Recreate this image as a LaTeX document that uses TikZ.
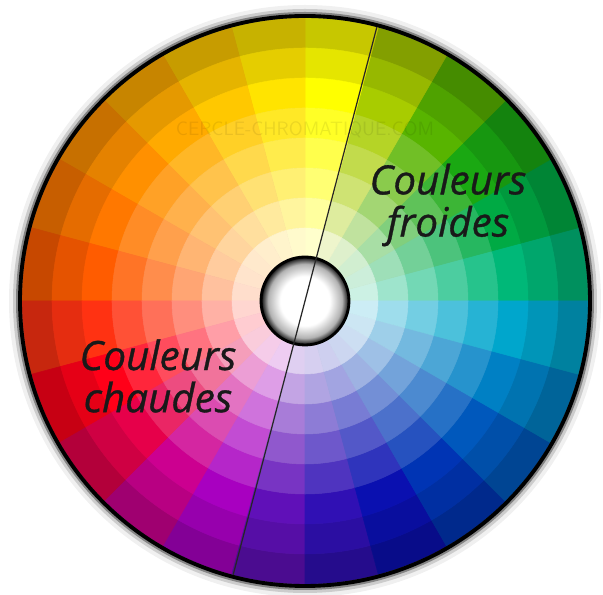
\documentclass[tikz,border=0pt]{standalone}
\usepackage{fontspec}
\usepackage{xcolor}
\usepackage{tikz}
\usetikzlibrary{calc}
\newfontfamily\handfont[FakeBold=0.8]{Open Sans}
% hues of the 24 sectors, counterclockwise from east
\definecolor{sec0}{HTML}{00B878}
\definecolor{sec1}{HTML}{00AA44}
\definecolor{sec2}{HTML}{1AA812}
\definecolor{sec3}{HTML}{58B400}
\definecolor{sec4}{HTML}{A8CC00}
\definecolor{sec5}{HTML}{FFFF00}
\definecolor{sec6}{HTML}{FFE400}
\definecolor{sec7}{HTML}{FFC800}
\definecolor{sec8}{HTML}{FFAA00}
\definecolor{sec9}{HTML}{FF9000}
\definecolor{sec10}{HTML}{FF7800}
\definecolor{sec11}{HTML}{FF5C00}
\definecolor{sec12}{HTML}{FF3212}
\definecolor{sec13}{HTML}{FF0018}
\definecolor{sec14}{HTML}{E6004A}
\definecolor{sec15}{HTML}{CC0090}
\definecolor{sec16}{HTML}{A800C0}
\definecolor{sec17}{HTML}{6010B8}
\definecolor{sec18}{HTML}{3010B4}
\definecolor{sec19}{HTML}{0A10B0}
\definecolor{sec20}{HTML}{0034B4}
\definecolor{sec21}{HTML}{0058BC}
\definecolor{sec22}{HTML}{0080C4}
\definecolor{sec23}{HTML}{00A6CC}
\pgfdeclareradialshading{holeshade}{\pgfpoint{0bp}{0bp}}{color(0bp)=(white); color(14bp)=(white); color(21bp)=(black!30); color(24bp)=(black!80); color(25bp)=(black); color(50bp)=(black)}
\tikzset{
  cell/.style={line width=0.3pt},
  rim/.style={draw=black, line width=2.2pt},
  hole/.style={shading=holeshade, draw=black, line width=1.6pt},
  divider/.style={draw=black!85, line width=0.7pt},
  handtext/.style={font=\handfont\itshape\fontsize{23}{24}\selectfont, text=black!90, align=center},
  watermark/.style={font=\sffamily\fontsize{11}{13}\selectfont, text=black, opacity=0.08}
}
\begin{document}
\begin{tikzpicture}[x=0.02cm, y=0.02cm]
  \useasboundingbox (0,0) rectangle (603,595);
  \fill[white] (0,0) rectangle (603,595);

  \begin{scope}[shift={(305,294)}]
    % soft shadow round the disc
    \fill[black, opacity=0.06] (0,0) circle (296);
    \fill[black, opacity=0.15] (0,0) circle (292);
    \fill[black, opacity=0.35] (0,0) circle (289);

    % the cells
    \foreach \i in {0,...,23}{
      \pgfmathsetmacro{\a}{15*\i}
      \foreach \rin/\mix in {253/78!black, 223/90!black, 193/100!black, 163/85!white,
                             133/70!white, 103/55!white, 73/38!white, 43/20!white}{
        \pgfmathsetmacro{\rout}{\rin+30}
        \path[cell, fill=sec\i!\mix, draw=sec\i!\mix]
          (\a:\rin) arc[start angle=\a, end angle=\a+15, radius=\rin]
          -- (\a+15:\rout) arc[start angle=\a+15, end angle=\a, radius=\rout] -- cycle;
      }
    }
    \draw[rim] (0,0) circle (285);

    \path[hole] (0,0) circle (44);

    \coordinate (linetop) at (75.3:283);
    \coordinate (linebot) at (255.3:283);
    \draw[divider] (linetop) -- (linebot);
  \end{scope}

  \node[watermark] (site) at (305,465) {CERCLE-CHROMATIQUE.COM};

  \node[handtext] (froides) at (448,390) {Couleurs\\froides};
  \node[handtext] (chaudes) at (158,219) {Couleurs\\chaudes};
\end{tikzpicture}
\end{document}
